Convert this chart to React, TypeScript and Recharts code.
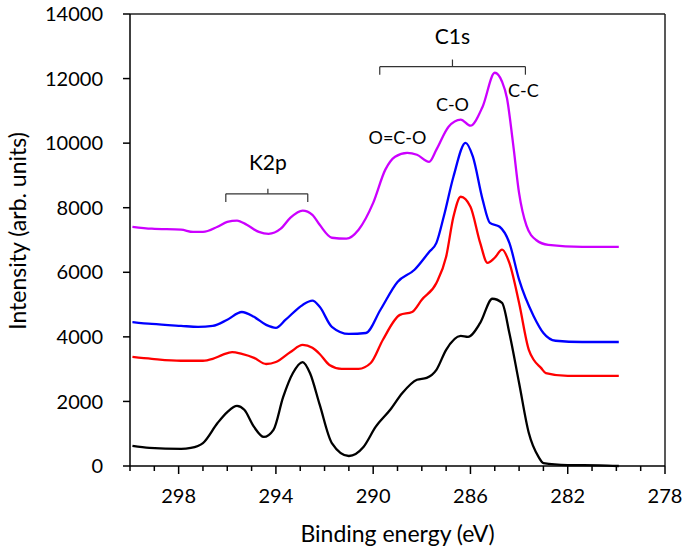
import React from "react";
import {
  LineChart,
  Line,
  XAxis,
  YAxis,
  ReferenceLine,
  ReferenceDot,
} from "recharts";

// binding energy (eV) / intensity pairs
const blackE = [299.9, 299.2, 297.9, 297.5, 297.0, 296.4, 296.0, 295.6, 295.3, 294.9, 294.5, 294.1, 293.7, 293.3, 292.9, 292.6, 292.2, 291.7, 291.0, 290.4, 289.9, 289.3, 288.8, 288.2, 287.8, 287.4, 287.0, 286.4, 286.1, 285.6, 285.1, 284.7, 284.4, 284.0, 283.6, 283.2, 283.0, 282.0, 280.7, 279.9];
const blackI = [620, 560, 530, 560, 710, 1330, 1670, 1860, 1740, 1210, 900, 1120, 2140, 2880, 3220, 2880, 1900, 710, 310, 590, 1210, 1740, 2260, 2670, 2730, 2980, 3600, 4030, 4000, 4430, 5180, 5050, 4120, 2570, 1020, 280, 90, 30, 20, 0];

const redE = [299.9, 299.1, 297.9, 297.0, 296.6, 296.2, 295.8, 295.4, 294.9, 294.4, 294.0, 293.4, 292.9, 292.5, 292.2, 291.8, 291.3, 290.6, 290.1, 289.6, 288.9, 288.4, 288.0, 287.4, 287.0, 286.7, 286.4, 286.0, 285.6, 285.3, 285.0, 284.7, 284.4, 284.0, 283.6, 283.4, 283.1, 282.9, 282.0, 279.9];
const redI = [3380, 3320, 3260, 3260, 3320, 3440, 3530, 3470, 3350, 3160, 3220, 3530, 3750, 3660, 3470, 3130, 3010, 3010, 3190, 3910, 4680, 4770, 5150, 5670, 6480, 7720, 8340, 8030, 6910, 6290, 6450, 6700, 6290, 5050, 3600, 3290, 3040, 2880, 2790, 2790];

const blueE = [299.9, 299.1, 297.9, 297.2, 296.6, 296.0, 295.4, 294.9, 294.4, 294.0, 293.6, 292.9, 292.5, 292.2, 291.7, 291.0, 290.3, 289.7, 289.0, 288.3, 287.7, 287.4, 287.1, 286.7, 286.2, 285.9, 285.5, 285.2, 284.8, 284.4, 284.0, 283.4, 283.0, 282.5, 281.4, 279.9];
const blueI = [4460, 4400, 4340, 4310, 4340, 4530, 4770, 4620, 4370, 4280, 4530, 4990, 5120, 4930, 4310, 4090, 4120, 4840, 5700, 6080, 6630, 6910, 7720, 8960, 10010, 9580, 8250, 7530, 7410, 6910, 5770, 4640, 4120, 3880, 3840, 3840];

const magentaE = [299.9, 299.1, 297.9, 297.4, 297.0, 296.4, 296.0, 295.6, 295.2, 294.7, 294.3, 293.8, 293.4, 292.9, 292.5, 292.2, 291.7, 291.1, 290.6, 290.0, 289.5, 289.1, 288.6, 288.2, 287.7, 287.4, 286.9, 286.4, 286.0, 285.5, 285.0, 284.7, 284.5, 284.25, 284.0, 283.7, 283.3, 282.8, 281.4, 279.9];
const magentaI = [7410, 7350, 7320, 7250, 7250, 7410, 7560, 7600, 7470, 7250, 7190, 7350, 7690, 7910, 7780, 7470, 7070, 7040, 7320, 8150, 9180, 9580, 9700, 9640, 9420, 9800, 10510, 10730, 10540, 11130, 12180, 11900, 11400, 10000, 8450, 7450, 7000, 6850, 6790, 6790];

const xTicks = [300, 299, 298, 297, 296, 295, 294, 293, 292, 291, 290, 289, 288, 287, 286, 285, 284, 283, 282, 281, 280, 279, 278];
const yTicks = [0, 2000, 4000, 6000, 8000, 10000, 12000, 14000];

// peak labels: [text, eV, intensity]
const peakLabels: [string, number, number][] = [
  ["C1s", 286.74, 13330],
  ["K2p", 294.33, 9420],
  ["O=C-O", 289.0, 10200],
  ["C-O", 286.74, 11220],
  ["C-C", 283.82, 11660],
];

// brackets: [left eV, right eV, bar level, end level, notch eV, notch level]
const brackets: [number, number, number, number, number, number][] = [
  [289.73, 283.74, 12370, 12120, 286.74, 12590],
  [296.06, 292.69, 8430, 8180, 294.33, 8590],
];

const FONT = "Lato, 'Open Sans', sans-serif";

const toData = (e: number[], v: number[]) => e.map((x, i) => ({ e: x, v: v[i] }));

const series = [
  { name: "black", color: "#000000", data: toData(blackE, blackI) },
  { name: "red", color: "#ff0000", data: toData(redE, redI) },
  { name: "blue", color: "#0000ff", data: toData(blueE, blueI) },
  { name: "magenta", color: "#cc00ff", data: toData(magentaE, magentaI) },
];

function XTick(props: any) {
  const { x, y, payload } = props;
  const major = (300 - payload.value) % 4 === 2;
  return (
    <g>
      <line x1={x} x2={x} y1={y} y2={y + (major ? 8 : 5)} stroke="#000" strokeWidth={1.5} />
      {major && (
        <text x={x} y={y + 37} textAnchor="middle" fontSize={20} fill="#000" fontFamily={FONT}>
          {payload.value}
        </text>
      )}
    </g>
  );
}

export default function App() {
  return (
    <div style={{ position: "absolute", left: 0, top: 0, fontFamily: FONT }}>
      <LineChart width={685} height={552} margin={{ top: 14, right: 20, bottom: 0, left: 0 }}>
        <XAxis
          dataKey="e"
          type="number"
          domain={[278, 300]}
          reversed
          ticks={xTicks}
          interval={0}
          tickLine={false}
          tickSize={0}
          tickMargin={0}
          tick={<XTick />}
          axisLine={{ stroke: "#000", strokeWidth: 1.5 }}
          height={86}
          label={({ viewBox }: any) => (
            <text
              x={viewBox.x + viewBox.width / 2}
              y={533}
              textAnchor="middle"
              dominantBaseline="central"
              fontSize={23}
              fill="#000"
              fontFamily={FONT}
            >
              Binding energy (eV)
            </text>
          )}
        />
        <YAxis
          type="number"
          domain={[0, 14000]}
          ticks={yTicks}
          interval={0}
          width={130}
          tickSize={7}
          tickMargin={20}
          tick={{ fontSize: 20, fill: "#000", fontFamily: FONT }}
          tickLine={{ stroke: "#000", strokeWidth: 1.5 }}
          axisLine={{ stroke: "#000", strokeWidth: 1.5 }}
          label={({ viewBox }: any) => {
            const cx = 17;
            const cy = viewBox.y + viewBox.height / 2 - 9;
            return (
              <text
                x={cx}
                y={cy}
                transform={`rotate(-90, ${cx}, ${cy})`}
                textAnchor="middle"
                dominantBaseline="central"
                fontSize={23}
                fill="#000"
                fontFamily={FONT}
              >
                Intensity (arb. units)
              </text>
            );
          }}
        />
        <ReferenceLine y={14000} stroke="#222" strokeWidth={1.5} ifOverflow="visible" />
        <ReferenceLine x={278} stroke="#222" strokeWidth={1.5} ifOverflow="visible" />
        {series.map((s) => (
          <Line
            key={s.name}
            data={s.data}
            dataKey="v"
            type="monotone"
            stroke={s.color}
            strokeWidth={2.3}
            dot={false}
            isAnimationActive={false}
          />
        ))}
        {brackets.map(([l, r, bar, end, n, top], i) => [
          <ReferenceLine key={`bl${i}`} segment={[{ x: l, y: end }, { x: l, y: bar }]} stroke="#333" strokeWidth={1.2} ifOverflow="visible" />,
          <ReferenceLine key={`bh${i}`} segment={[{ x: l, y: bar }, { x: r, y: bar }]} stroke="#333" strokeWidth={1.2} ifOverflow="visible" />,
          <ReferenceLine key={`br${i}`} segment={[{ x: r, y: bar }, { x: r, y: end }]} stroke="#333" strokeWidth={1.2} ifOverflow="visible" />,
          <ReferenceLine key={`bn${i}`} segment={[{ x: n, y: bar }, { x: n, y: top }]} stroke="#333" strokeWidth={1.2} ifOverflow="visible" />,
        ])}
        {peakLabels.map(([t, e, v]) => (
          <ReferenceDot
            key={t}
            x={e}
            y={v}
            r={0}
            ifOverflow="visible"
            shape={(p: any) => (
              <text
                x={p.cx}
                y={p.cy}
                textAnchor="middle"
                dominantBaseline="central"
                fontSize={t === "C1s" || t === "K2p" ? 21 : 18}
                fill="#000"
                fontFamily={FONT}
              >
                {t}
              </text>
            )}
          />
        ))}
      </LineChart>
    </div>
  );
}
